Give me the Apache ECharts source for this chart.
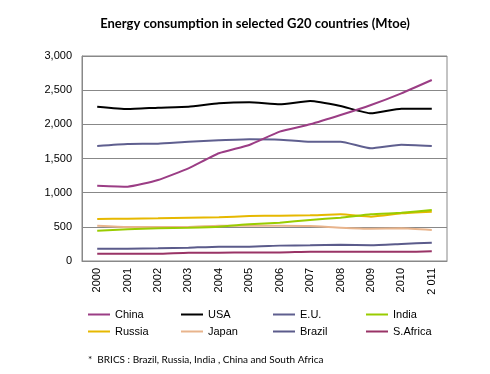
<!DOCTYPE html>
<html><head><meta charset="utf-8">
<script src="https://cdn.jsdelivr.net/npm/echarts@6/dist/echarts.min.js"></script>
<style>html,body{margin:0;padding:0;background:#fff}#c{width:490px;height:374px}</style>
</head><body><div id="c"></div>
<script>
var years = ['2000','2001','2002','2003','2004','2005','2006','2007','2008','2009','2010','2 011'];
var china   = [1102,1088,1185,1356,1576,1698,1893,2000,2136,2283,2454,2649];
var usa     = [2258,2224,2244,2258,2307,2322,2293,2341,2268,2161,2229,2229];
var eu      = [1683,1712,1717,1746,1766,1781,1776,1746,1746,1649,1702,1683];
var india   = [444,463,478,488,502,537,561,600,634,683,707,746];
var russia  = [615,620,625,634,639,659,664,668,683,649,698,722];
var japan   = [517,498,498,498,517,517,517,512,488,473,478,454];
var brazil  = [180,180,185,195,210,210,225,230,239,230,249,268];
var safrica = [107,107,107,122,122,126,126,136,134,134,134,141];
var yTicks = [0,500,1000,1500,2000,2500,3000];

var names  = ['China','USA','E.U.','India','Russia','Japan','Brazil','S.Africa'];
var values = [china,usa,eu,india,russia,japan,brazil,safrica];
var colors = ['#9B3D85','#000000','#5F5F8F','#99CC00','#E6B800','#E8B48C','#5B5B8B','#993366'];

var series = names.map(function(n,i){
  return {name:n,type:'line',data:values[i],smooth:0.15,showSymbol:false,symbol:'none',
    lineStyle:{width:2,color:colors[i]},itemStyle:{color:colors[i]},z:10-i};
});
var legCols = [88,181,273,366];
var legends = legCols.map(function(x,k){
  return {orient:'vertical',left:x,top:309,data:[names[k],names[k+4]],itemWidth:22,itemHeight:2,
    icon:'rect',itemGap:6,textStyle:{fontFamily:'Liberation Sans',fontSize:11,color:'#000'},padding:0};
});
var chart = echarts.init(document.getElementById('c'));
chart.setOption({
  animation:false,
  title:{text:'Energy consumption in selected G20 countries (Mtoe)',left:250,textAlign:'center',top:12,
    textStyle:{fontFamily:'Lato',fontWeight:'bold',fontSize:13,color:'#000'}},
  legend:legends,
  grid:{left:82,right:43,top:56,bottom:113,show:true,borderColor:'#888',borderWidth:1,containLabel:false},
  xAxis:{type:'category',data:years,boundaryGap:true,
    axisLine:{lineStyle:{color:'#888'}},axisTick:{show:false},
    axisLabel:{rotate:90,fontFamily:'Liberation Sans',fontSize:11,color:'#000',margin:7,interval:0}},
  yAxis:{type:'value',min:yTicks[0],max:yTicks[yTicks.length-1],interval:500,
    axisLine:{show:true,lineStyle:{color:'#888'}},axisTick:{show:false},
    splitLine:{lineStyle:{color:'#888',width:1}},
    axisLabel:{fontFamily:'Liberation Sans',fontSize:11,color:'#000',margin:10,
      formatter:function(v){return v.toLocaleString('en-US');}}},
  graphic:[{type:'text',left:88,top:355,style:{text:'*  BRICS : Brazil, Russia, India , China and South Africa',
    fontFamily:'Lato',fontSize:10,fill:'#000'}}],
  series:series
});
</script></body></html>
